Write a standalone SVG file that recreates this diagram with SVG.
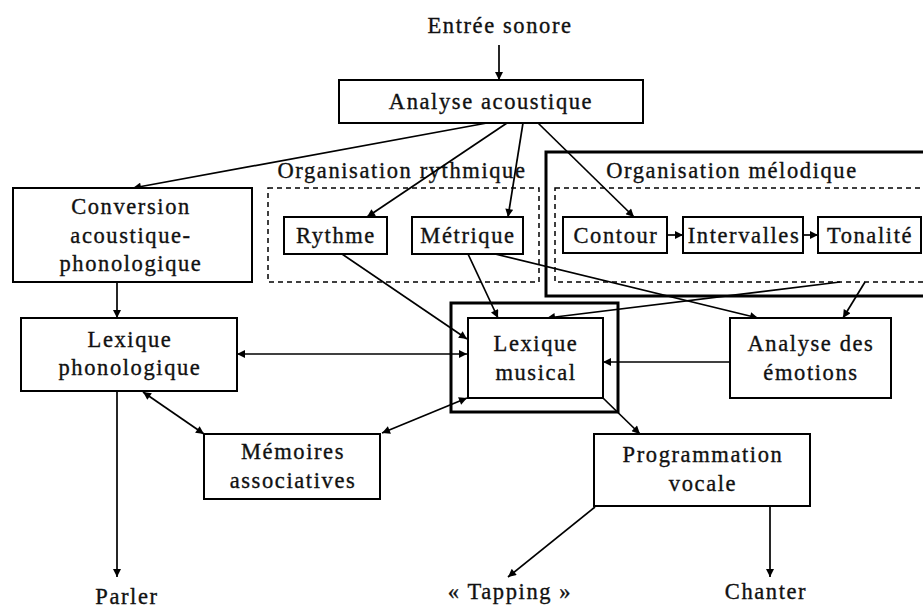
<svg xmlns="http://www.w3.org/2000/svg" width="923" height="610" viewBox="0 0 923 610">
<defs>
<marker id="ah" viewBox="0 0 10 10" refX="10" refY="5" markerWidth="10" markerHeight="8" markerUnits="userSpaceOnUse" orient="auto-start-reverse">
<path d="M0,0 L10,5 L0,10 z" fill="#000"/>
</marker>
<style>
text{font-family:"Liberation Serif","Times New Roman",serif;font-size:22.5px;letter-spacing:1.6px;fill:#111;stroke:#111;stroke-width:0.35;text-anchor:middle}
.box{fill:#fff;stroke:#000;stroke-width:2}
.frame{fill:none;stroke:#000;stroke-width:3}
.dash{fill:none;stroke:#000;stroke-width:1.5;stroke-dasharray:5 4}
.c{fill:none;stroke:#000;stroke-width:1.7;marker-end:url(#ah)}
.d{fill:none;stroke:#000;stroke-width:1.7;marker-end:url(#ah);marker-start:url(#ah)}
</style>
</defs>
<rect width="923" height="610" fill="#fff"/>

<g id="groups">
<g id="org-rythmique">
<rect class="dash" x="268" y="188" width="271" height="94"/>
<text x="402" y="178">Organisation rythmique</text>
</g>
<g id="org-melodique">
<rect class="frame" x="546" y="152" width="390" height="144"/>
<rect class="dash" x="555" y="188" width="380" height="94"/>
<text x="732" y="178">Organisation mélodique</text>
</g>
</g>

<g id="connectors">
<line class="c" x1="499" y1="45" x2="499" y2="80"/>
<line class="c" x1="487" y1="123" x2="133" y2="188"/>
<line class="c" x1="507" y1="123" x2="367" y2="217"/>
<line class="c" x1="523" y1="123" x2="508" y2="217"/>
<line class="c" x1="538" y1="123" x2="634" y2="217"/>
<line class="c" x1="667" y1="235" x2="683" y2="235"/>
<line class="c" x1="803" y1="235" x2="818" y2="235"/>
<line class="c" x1="117" y1="282" x2="117" y2="318"/>
<line class="c" x1="117" y1="391" x2="117" y2="577"/>
<line class="d" x1="237" y1="354" x2="467" y2="354"/>
<line class="d" x1="143" y1="392" x2="204" y2="434"/>
<line class="d" x1="382" y1="433" x2="467" y2="398"/>
<line class="c" x1="342" y1="254" x2="467" y2="339"/>
<line class="c" x1="468" y1="254" x2="498" y2="318"/>
<line class="c" x1="495" y1="254" x2="758" y2="318"/>
<line class="c" x1="840" y1="282" x2="547" y2="318"/>
<line class="c" x1="865" y1="282" x2="843" y2="318"/>
<line class="c" x1="730" y1="362" x2="603" y2="362"/>
<line class="c" x1="603" y1="398" x2="640" y2="434"/>
<line class="c" x1="595" y1="507" x2="508" y2="577"/>
<line class="c" x1="770" y1="506" x2="770" y2="577"/>
</g>

<g id="entree"><text x="500" y="33">Entrée sonore</text></g>
<g id="analyse-acoustique">
<rect class="box" x="339" y="80" width="304" height="43"/>
<text x="491" y="109">Analyse acoustique</text>
</g>
<g id="conversion">
<rect class="box" x="13" y="188" width="239" height="94"/>
<text x="131" y="214">Conversion</text>
<text x="131" y="243">acoustique-</text>
<text x="131" y="271">phonologique</text>
</g>
<g id="rythme">
<rect class="box" x="284" y="217" width="103" height="37"/>
<text x="336" y="243">Rythme</text>
</g>
<g id="metrique">
<rect class="box" x="412" y="217" width="111" height="37"/>
<text x="468" y="243">Métrique</text>
</g>
<g id="contour">
<rect class="box" x="563" y="217" width="104" height="36"/>
<text x="616" y="243">Contour</text>
</g>
<g id="intervalles">
<rect class="box" x="683" y="217" width="120" height="36"/>
<text x="744" y="243">Intervalles</text>
</g>
<g id="tonalite">
<rect class="box" x="818" y="217" width="103" height="36"/>
<text x="870" y="243">Tonalité</text>
</g>
<g id="lexique-phonologique">
<rect class="box" x="21" y="318" width="216" height="73"/>
<text x="130" y="347">Lexique</text>
<text x="130" y="375">phonologique</text>
</g>
<g id="lexique-musical">
<rect class="frame" x="451" y="303" width="167" height="109"/>
<rect class="box" x="468" y="318" width="135" height="80"/>
<text x="536" y="351">Lexique</text>
<text x="536" y="380">musical</text>
</g>
<g id="analyse-emotions">
<rect class="box" x="730" y="318" width="161" height="80"/>
<text x="811" y="351">Analyse des</text>
<text x="811" y="380">émotions</text>
</g>
<g id="memoires">
<rect class="box" x="204" y="434" width="176" height="65"/>
<text x="293" y="459">Mémoires</text>
<text x="293" y="488">associatives</text>
</g>
<g id="programmation">
<rect class="box" x="594" y="434" width="216" height="72"/>
<text x="703" y="462">Programmation</text>
<text x="703" y="491">vocale</text>
</g>
<g id="parler"><text x="127" y="604">Parler</text></g>
<g id="tapping"><text x="510" y="599">« Tapping »</text></g>
<g id="chanter"><text x="766" y="599">Chanter</text></g>
</svg>
